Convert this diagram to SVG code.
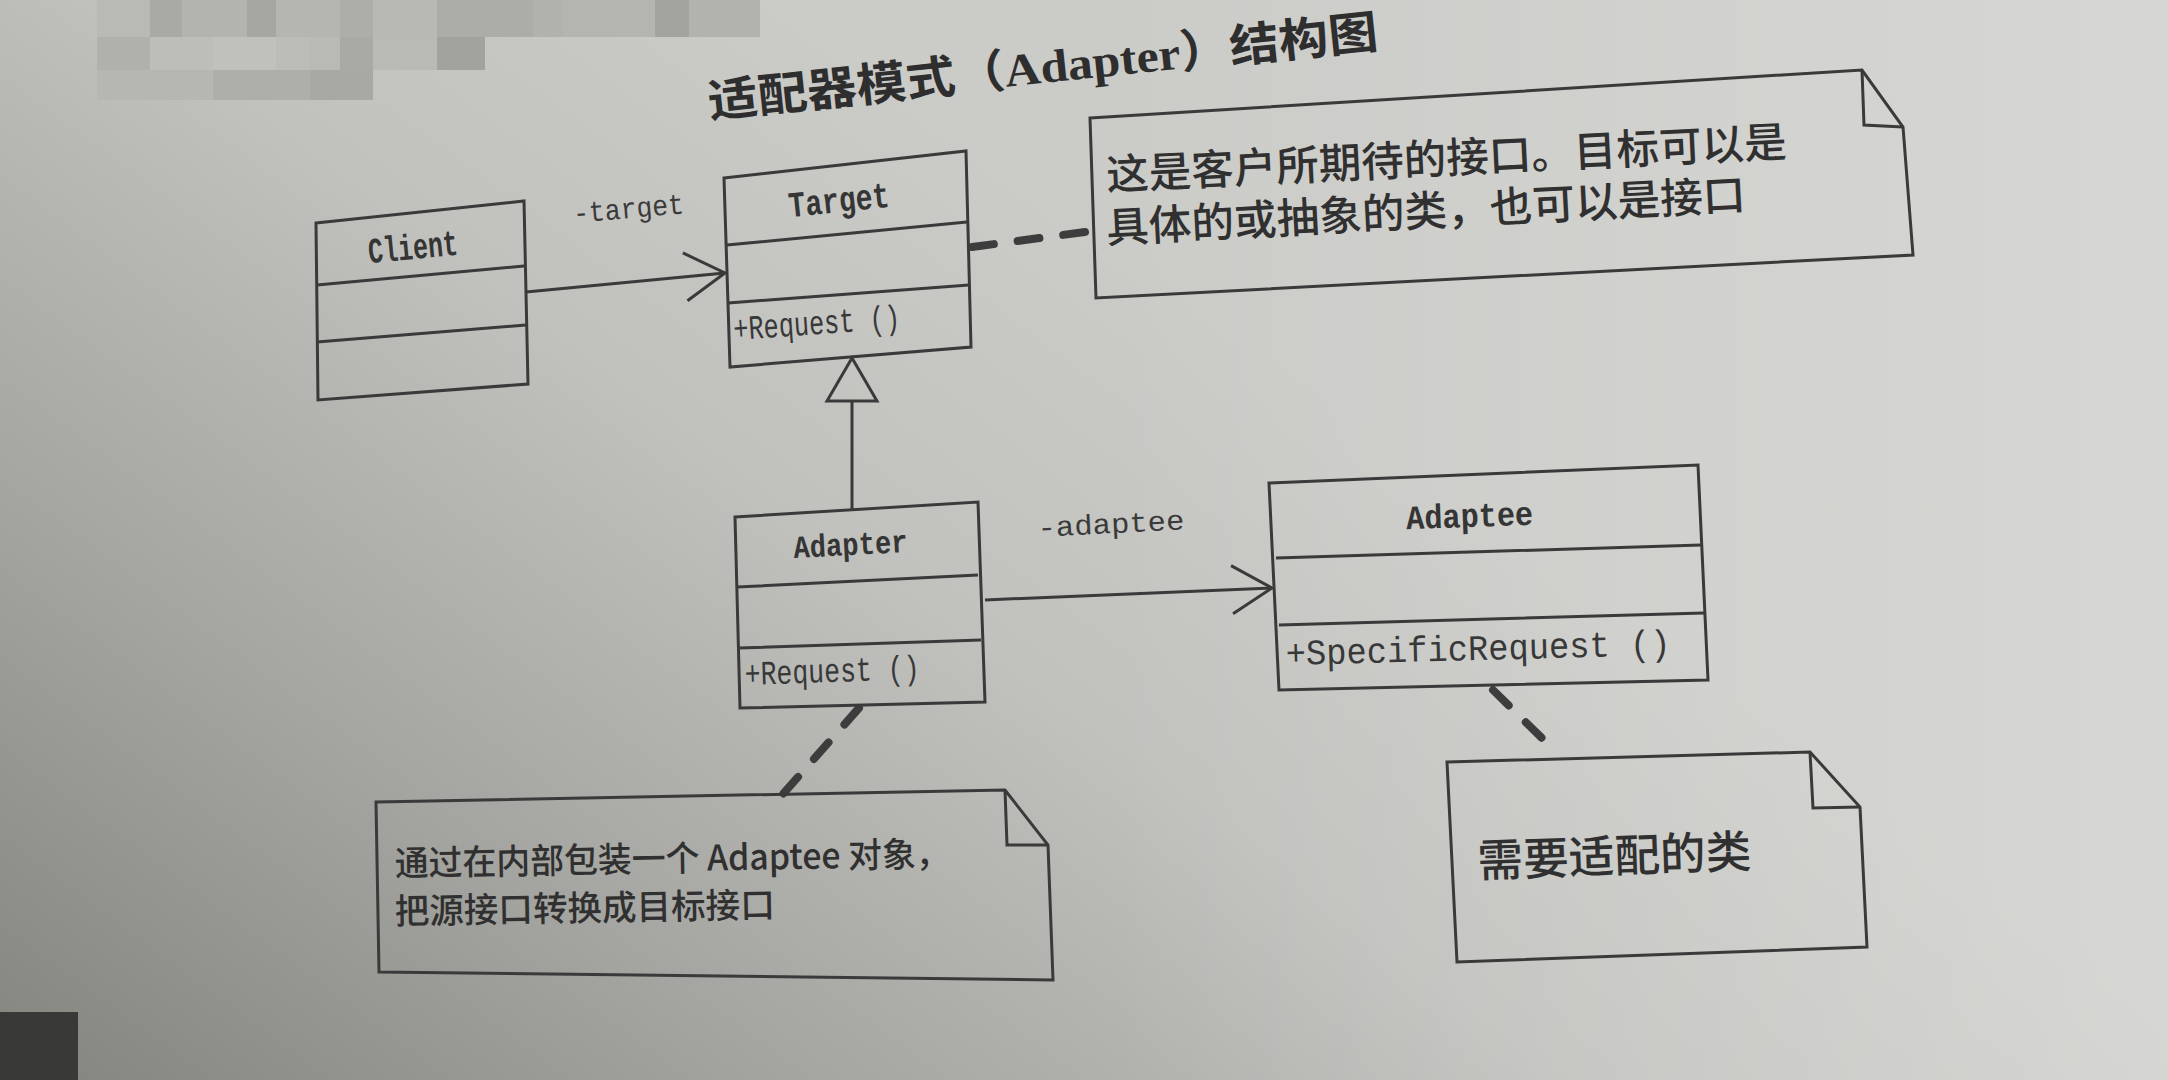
<svg xmlns="http://www.w3.org/2000/svg" width="2168" height="1080" viewBox="0 0 2168 1080">
  <defs>
    <style>
      .box { fill: none; stroke: #3a3a3a; stroke-width: 3; stroke-linejoin: miter; }
      .assoc { fill: none; stroke: #3a3a3a; stroke-width: 3; }
      .anchor { fill: none; stroke: #3d3d3d; stroke-width: 8; stroke-dasharray: 22 24; stroke-linecap: round; }
      .name { font-family: "Liberation Mono", "DejaVu Sans Mono", monospace; font-weight: bold; fill: #353535; }
      .member { font-family: "Liberation Mono", "DejaVu Sans Mono", monospace; fill: #383838; }
      .label { font-family: "Liberation Mono", "DejaVu Sans Mono", monospace; fill: #3a3a3a; }
      .cjk { font-family: "Noto Sans CJK SC", "Noto Sans", sans-serif; font-weight: 500; fill: #303030; }
      .title { font-family: "Noto Sans CJK SC", "Noto Sans", sans-serif; font-weight: bold; fill: #2e2e2e; }
    </style>
    <linearGradient id="paper" gradientUnits="userSpaceOnUse" x1="0" y1="1080" x2="800" y2="0">
      <stop offset="0" stop-color="#84847f"/>
      <stop offset="0.35" stop-color="#a4a4a0"/>
      <stop offset="0.7" stop-color="#c1c1be"/>
      <stop offset="1" stop-color="#cbcbc8"/>
    </linearGradient>
    <linearGradient id="sheen" gradientUnits="userSpaceOnUse" x1="1100" y1="0" x2="2168" y2="0">
      <stop offset="0" stop-color="#ffffff" stop-opacity="0"/>
      <stop offset="1" stop-color="#ffffff" stop-opacity="0.22"/>
    </linearGradient>
    <!-- open arrowhead for navigable associations -->
    <marker id="open" markerUnits="userSpaceOnUse" viewBox="-48 -30 52 60" refX="0" refY="0" markerWidth="52" markerHeight="60" orient="auto" overflow="visible">
      <path d="M-40,-24 L0,0 L-40,24" fill="none" stroke="#3a3a3a" stroke-width="3"/>
    </marker>
    <!-- hollow triangle for generalization -->
    <marker id="hollow" markerUnits="userSpaceOnUse" viewBox="-4 -30 52 60" refX="0" refY="0" markerWidth="52" markerHeight="60" orient="auto" overflow="visible">
      <path d="M0,-25 L43,0 L0,25 Z" fill="none" stroke="#3a3a3a" stroke-width="3"/>
    </marker>
  </defs>

  <!-- paper -->
  <g id="page">
    <rect x="0" y="0" width="2168" height="1080" fill="url(#paper)"/>
    <rect x="0" y="0" width="2168" height="1080" fill="url(#sheen)"/>
    <!-- pixelated patch at the top-left -->
    <g id="mosaic">
      <rect x="97" y="0" width="53" height="37" fill="#b9b9b6"/>
      <rect x="150" y="0" width="32" height="37" fill="#a9a9a6"/>
      <rect x="182" y="0" width="65" height="37" fill="#b3b3b0"/>
      <rect x="247" y="0" width="29" height="37" fill="#a6a6a3"/>
      <rect x="276" y="0" width="64" height="37" fill="#b5b5b2"/>
      <rect x="340" y="0" width="33" height="37" fill="#adadaa"/>
      <rect x="373" y="0" width="64" height="37" fill="#b8b8b5"/>
      <rect x="437" y="0" width="96" height="37" fill="#acaca9"/>
      <rect x="533" y="0" width="30" height="37" fill="#b1b1ae"/>
      <rect x="563" y="0" width="92" height="37" fill="#b4b4b1"/>
      <rect x="655" y="0" width="34" height="37" fill="#a3a3a0"/>
      <rect x="689" y="0" width="71" height="37" fill="#b2b2af"/>
      <rect x="97" y="37" width="53" height="33" fill="#b0b0ad"/>
      <rect x="150" y="37" width="63" height="33" fill="#bdbdba"/>
      <rect x="213" y="37" width="63" height="33" fill="#c0c0bd"/>
      <rect x="276" y="37" width="34" height="33" fill="#bcbcb9"/>
      <rect x="310" y="37" width="30" height="33" fill="#b9b9b6"/>
      <rect x="340" y="37" width="33" height="33" fill="#a9a9a6"/>
      <rect x="373" y="37" width="64" height="33" fill="#b9b9b6"/>
      <rect x="437" y="37" width="48" height="33" fill="#a2a29f"/>
      <rect x="97" y="70" width="116" height="30" fill="#b6b6b3"/>
      <rect x="213" y="70" width="97" height="30" fill="#aeaeab"/>
      <rect x="310" y="70" width="63" height="30" fill="#a8a8a5"/>
    </g>
    <!-- dark page tab at the bottom-left -->
    <rect x="0" y="1012" width="78" height="68" fill="#393937"/>
  </g>

  <!-- title -->
  <g id="title">
    <text class="title" x="710" y="118" font-size="46" textLength="673" lengthAdjust="spacingAndGlyphs" transform="rotate(-6 710 118)">适配器模式（<tspan font-family="'Liberation Serif', serif">Adapter</tspan>）结构图</text>
  </g>

  <!-- connectors -->
  <g id="connectors">
    <path class="assoc" d="M526,292 L725,273" marker-end="url(#open)"/>
    <text class="label" x="574" y="223" font-size="29" textLength="111" lengthAdjust="spacingAndGlyphs" transform="rotate(-5 574 223)">-target</text>
    <path class="assoc" d="M852,510 L852,401" marker-end="url(#hollow)"/>
    <path class="assoc" d="M985,600 L1272,588" marker-end="url(#open)"/>
    <text class="label" x="1038" y="537" font-size="28" textLength="147" lengthAdjust="spacingAndGlyphs" transform="rotate(-3 1038 537)">-adaptee</text>
    <path class="anchor" d="M972,247 L1085,232"/>
    <path class="anchor" d="M859,708 L783,794"/>
    <path class="anchor" d="M1493,690 L1556,752"/>
  </g>

  <!-- classes -->
  <g id="client">
    <polygon class="box" points="316,223 524,201 528,384 318,400"/>
    <path class="box" d="M317,285 L524,266 M317,342 L526,325"/>
    <text class="name" x="414" y="259" font-size="36" text-anchor="middle" textLength="90" lengthAdjust="spacingAndGlyphs" transform="rotate(-5.5 414 259)">Client</text>
  </g>

  <g id="target">
    <polygon class="box" points="724,178 966,151 971,347 730,367"/>
    <path class="box" d="M727,245 L967,222 M728,303 L969,285"/>
    <text class="name" x="840" y="212" font-size="36" text-anchor="middle" textLength="101" lengthAdjust="spacingAndGlyphs" transform="rotate(-6 840 212)">Target</text>
    <text class="member" x="734" y="340" font-size="34" textLength="167" lengthAdjust="spacingAndGlyphs" transform="rotate(-4 734 340)">+Request ()</text>
  </g>

  <g id="adapter">
    <polygon class="box" points="735,517 978,502 985,702 740,708"/>
    <path class="box" d="M737,587 L978,575 M739,648 L981,640"/>
    <text class="name" x="851" y="555" font-size="32" text-anchor="middle" textLength="114" lengthAdjust="spacingAndGlyphs" transform="rotate(-3 851 555)">Adapter</text>
    <text class="member" x="745" y="685" font-size="34" textLength="175" lengthAdjust="spacingAndGlyphs" transform="rotate(-2 745 685)">+Request ()</text>
  </g>

  <g id="adaptee">
    <polygon class="box" points="1269,483 1698,465 1708,680 1279,690"/>
    <path class="box" d="M1276,558 L1701,545 M1279,625 L1704,613"/>
    <text class="name" x="1470" y="527" font-size="34" text-anchor="middle" textLength="127" lengthAdjust="spacingAndGlyphs" transform="rotate(-2 1470 527)">Adaptee</text>
    <text class="member" x="1286" y="665" font-size="36" textLength="385" lengthAdjust="spacingAndGlyphs" transform="rotate(-1.5 1286 665)">+SpecificRequest ()</text>
  </g>

  <!-- notes -->
  <g id="note-target">
    <polygon class="box" points="1090,118 1862,70 1903,127 1913,255 1096,298"/>
    <polyline class="box" points="1862,70 1864,125 1903,127"/>
    <text class="cjk" x="1107" y="190" font-size="42" textLength="681" lengthAdjust="spacingAndGlyphs" transform="rotate(-2.8 1107 190)">这是客户所期待的接口。目标可以是</text>
    <text class="cjk" x="1107" y="243" font-size="42" textLength="640" lengthAdjust="spacingAndGlyphs" transform="rotate(-3 1107 243)">具体的或抽象的类，也可以是接口</text>
  </g>

  <g id="note-adapter">
    <polygon class="box" points="376,802 1005,790 1048,845 1053,980 379,972"/>
    <polyline class="box" points="1005,790 1007,845 1048,845"/>
    <text class="cjk" x="395" y="876" font-size="35" textLength="555" lengthAdjust="spacingAndGlyphs" transform="rotate(-1 395 876)">通过在内部包装一个 Adaptee 对象，</text>
    <text class="cjk" x="395" y="924" font-size="35" textLength="380" lengthAdjust="spacingAndGlyphs" transform="rotate(-1 395 924)">把源接口转换成目标接口</text>
  </g>

  <g id="note-adaptee">
    <polygon class="box" points="1447,762 1810,752 1860,807 1867,947 1457,962"/>
    <polyline class="box" points="1810,752 1813,808 1860,807"/>
    <text class="cjk" x="1478" y="877" font-size="45" textLength="274" lengthAdjust="spacingAndGlyphs" transform="rotate(-2 1478 877)">需要适配的类</text>
  </g>
</svg>
